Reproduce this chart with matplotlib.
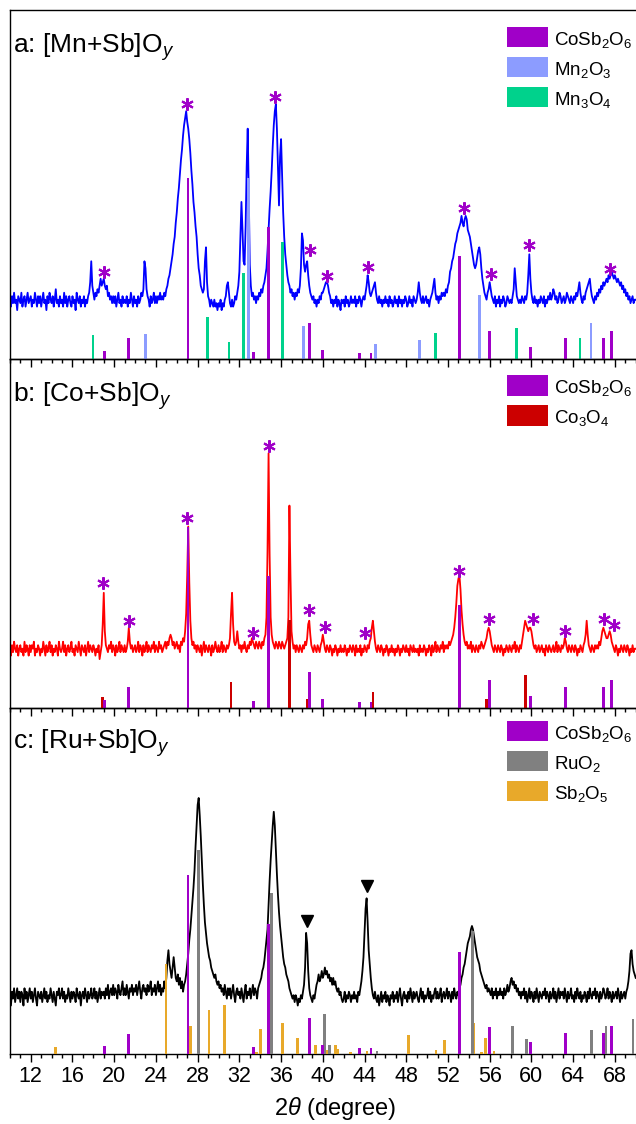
import numpy as np
import matplotlib
matplotlib.use('Agg')
import matplotlib.pyplot as plt
from matplotlib.patches import Rectangle
from matplotlib.ticker import MultipleLocator

plt.rcParams['font.family'] = ['Liberation Sans', 'DejaVu Sans']
plt.rcParams['mathtext.fontset'] = 'custom'
plt.rcParams['mathtext.rm'] = 'Liberation Sans'
plt.rcParams['mathtext.it'] = 'Liberation Sans:italic'
plt.rcParams['mathtext.bf'] = 'Liberation Sans:bold'

# ---------------- data (2theta from 10.0 in 0.1 deg steps) ----------------
pattern_a = [
    17,15,18,16,19,16,17,14,18,17,  16,19,15,17,18,15,17,19,16,17,
    18,15,17,16,19,17,15,18,16,18,  15,17,19,16,17,14,18,16,19,17,
    16,18,15,17,20,16,17,15,18,16,  17,15,19,16,18,15,17,18,16,15,
    18,16,17,14,19,17,16,18,15,17,  16,18,15,17,16,18,19,22,28,21,
    19,17,19,18,20,19,21,23,21,22,  23,21,20,21,18,19,17,18,16,18,
    16,18,15,17,19,16,17,15,18,16,  17,16,18,15,17,16,19,17,15,18,
    16,17,15,18,16,17,19,18,20,28,  26,20,18,17,15,18,16,17,19,16,
    18,16,18,17,19,17,18,17,19,18,  20,21,23,24,26,28,30,33,35,39,
    42,46,49,53,57,60,64,67,69,71,  68,66,63,59,54,50,45,42,38,35,
    30,26,24,21,20,19,20,28,32,22,  18,17,15,17,16,15,17,15,16,14,
    16,15,17,14,16,15,17,18,21,22,  19,16,15,17,15,16,18,17,19,21,
    25,35,45,37,28,27,38,55,66,48,  27,21,18,19,17,18,16,18,17,19,
    18,20,19,21,22,24,26,31,37,43,  48,54,61,67,71,73,66,55,44,58,
    63,52,42,35,30,27,24,22,21,19,  20,18,19,17,19,18,20,19,21,26,
    36,34,27,25,27,28,24,21,19,18,  17,18,16,17,15,17,16,18,17,19,
    19,20,21,22,22,21,19,18,16,17,  15,17,16,18,15,17,16,14,17,16,
    17,15,18,16,17,15,16,18,16,17,  16,18,15,17,16,18,17,15,17,18,
    17,19,21,24,22,19,18,19,20,21,  22,19,17,16,18,16,17,15,17,16,
    18,16,17,15,18,16,17,15,16,18,  16,17,15,18,16,17,15,17,16,18,
    17,15,16,18,16,17,15,18,17,16,  17,19,22,19,17,16,18,16,17,18,
    16,17,15,17,18,19,21,23,19,17,  18,16,18,17,19,18,19,18,20,19,
    21,22,25,26,28,29,31,33,34,36,  37,38,39,41,39,38,40,41,40,37,
    36,35,33,31,29,27,26,27,29,31,  32,30,26,23,21,19,18,17,19,20,
    22,20,18,17,16,18,15,17,16,18,  15,17,16,18,17,15,16,18,17,16,
    17,16,18,20,26,22,18,17,16,17,  16,18,17,16,18,17,19,24,30,23,
    19,17,16,18,16,17,15,17,16,18,  17,16,18,15,17,16,18,17,19,17,
    18,20,19,17,18,16,17,19,18,16,  17,18,16,17,19,18,17,16,18,17,
    16,18,17,19,18,20,22,19,17,16,  18,17,19,20,21,22,23,20,18,17,
    16,18,17,19,18,20,19,21,20,22,  21,22,23,22,24,23,24,25,24,23,
    24,23,22,23,22,21,22,20,21,19,  20,18,19,17,18,16,17,18,16,17,
    17]

pattern_b = [
    17,15,18,16,19,17,16,18,15,17,  18,16,17,15,19,16,18,17,15,18,
    16,18,17,19,15,17,16,18,17,15,  17,16,19,17,15,18,16,17,19,16,
    18,15,17,16,18,17,15,19,17,16,  17,19,16,18,15,17,18,16,17,19,
    16,17,15,18,17,16,19,17,15,18,  17,16,18,15,17,19,16,18,17,16,
    18,17,15,17,16,18,14,16,18,24,  33,22,18,17,16,18,17,19,16,18,
    17,15,18,16,17,19,16,18,17,16,  18,16,17,19,23,19,17,18,16,17,
    18,16,17,19,16,18,17,15,18,16,  17,19,16,18,17,16,18,17,19,16,
    18,17,16,19,17,18,16,17,18,19,  17,19,18,20,21,20,18,19,17,18,
    19,17,18,16,19,18,20,19,22,27,  38,52,36,25,20,18,19,17,18,16,
    18,17,16,18,15,17,19,16,18,17,  16,18,17,15,18,16,17,19,17,16,
    18,16,17,19,16,18,17,16,18,17,  18,20,27,33,24,19,18,19,22,19,
    17,18,16,18,17,19,17,16,18,17,  19,18,20,19,18,17,19,18,17,19,
    18,17,19,18,20,21,26,45,73,44,  26,21,19,18,17,19,18,17,19,18,
    17,19,18,17,18,19,20,26,58,38,  22,19,17,18,16,18,17,16,18,17,
    16,18,17,19,18,20,24,25,21,18,  17,16,18,17,16,18,17,16,18,19,
    21,19,17,16,18,17,16,18,17,15,  17,16,18,17,15,17,16,18,16,17,
    16,18,17,15,17,16,18,17,16,18,  17,15,18,16,17,16,18,15,17,16,
    18,17,16,18,17,19,20,23,25,22,  19,17,16,18,17,16,18,17,15,17,
    16,18,17,15,17,16,18,16,17,15,  17,16,18,17,15,17,16,18,17,16,
    18,16,17,15,18,17,16,18,16,17,  16,17,15,18,16,17,16,18,17,15,
    17,16,18,17,15,18,16,17,19,16,  18,17,16,18,17,19,16,18,17,18,
    17,19,18,19,20,21,23,26,30,35,  37,38,34,28,24,21,19,18,19,17,
    18,17,19,16,18,17,16,18,17,16,  18,17,19,18,17,18,19,20,22,23,
    22,20,18,17,16,18,17,16,18,17,  16,18,17,15,17,16,18,17,16,18,
    17,16,18,17,19,16,18,17,16,18,  17,19,21,23,25,24,23,22,23,23,
    22,20,18,17,18,16,17,18,16,17,  18,16,17,15,18,17,16,18,17,16,
    17,18,16,17,19,16,18,17,16,18,  17,18,20,19,17,16,18,17,16,18,
    17,16,18,17,15,17,16,18,17,16,  18,19,21,25,21,18,17,16,18,17,
    16,18,17,18,17,19,18,20,22,23,  22,21,20,20,21,22,21,19,18,17,
    16,18,17,15,17,16,18,17,16,18,  17,16,18,17,15,17,16,18,16,17,
    17]

pattern_c = [
    17,14,18,16,19,15,17,19,16,18,  15,18,17,14,19,16,18,15,17,19,
    16,18,15,17,19,16,14,18,17,16,  18,15,17,19,16,18,15,17,16,19,
    17,15,18,16,14,18,17,19,16,17,  19,16,18,15,17,16,19,17,15,18,
    16,18,17,15,19,17,16,18,14,17,  18,16,19,17,15,18,16,17,19,16,
    17,19,16,18,15,17,19,16,18,17,  18,16,19,17,20,16,18,19,17,20,
    17,19,18,16,20,18,17,19,21,17,  19,17,20,18,16,19,18,20,17,19,
    18,20,17,19,21,18,16,19,20,18,  19,17,20,18,19,21,17,19,18,20,
    17,19,21,18,20,17,19,18,21,19,  22,27,30,26,24,22,25,28,25,22,
    21,23,20,22,19,21,18,20,21,23,  26,29,33,36,40,44,48,53,60,66,
    72,74,69,63,56,49,43,38,35,32,  30,28,27,25,24,23,22,23,21,20,
    21,19,20,18,19,17,20,18,16,19,  17,19,16,18,20,17,15,18,19,17,
    18,16,19,17,15,18,20,16,18,17,  19,16,18,20,17,19,18,16,19,20,
    21,22,24,25,27,30,33,36,43,50,  56,61,66,70,66,59,52,46,41,37,
    34,31,28,26,25,23,22,21,19,18,  17,16,17,15,17,16,14,16,15,17,
    16,18,20,25,35,32,24,19,17,16,  15,17,16,18,20,21,23,21,22,24,
    22,23,25,23,24,22,23,21,22,20,  22,20,21,19,18,19,17,18,16,15,
    16,18,15,17,16,18,17,15,17,16,  18,16,17,15,18,17,19,21,24,28,
    35,42,45,38,30,26,22,19,17,16,  18,16,15,17,14,16,18,15,17,16,
    18,15,17,16,14,17,16,18,15,17,  16,18,15,17,19,16,14,17,18,16,
    17,15,18,16,19,17,15,18,16,17,  18,16,15,17,19,16,18,15,17,16,
    17,19,16,18,15,17,16,18,19,16,  18,16,17,19,15,17,18,16,17,19,
    16,18,17,15,18,16,19,17,16,18,  17,19,20,22,23,25,26,28,30,32,
    33,34,36,37,36,34,32,30,28,27,  26,24,23,22,21,20,19,20,18,19,
    18,17,19,16,18,17,19,16,18,17,  19,17,18,16,19,17,18,20,18,19,
    21,22,20,21,19,20,18,19,17,18,  16,18,17,19,16,18,15,17,19,16,
    18,17,15,18,16,19,17,15,18,17,  16,18,17,19,16,18,17,15,18,16,
    17,19,16,18,15,17,19,16,18,17,  18,16,19,17,15,18,16,17,19,16,
    17,15,18,16,19,17,16,18,15,17,  16,18,17,15,18,16,19,17,16,18,
    17,19,16,18,17,15,18,16,17,19,  18,16,17,19,16,18,17,15,18,16,
    17,18,16,19,17,15,18,16,17,18,  16,18,19,21,24,29,30,26,24,23,
    22]

# reference stick patterns (2theta, relative height)
cosb2o6_pos = [19.05, 21.39, 27.07, 33.37, 34.80, 38.71, 39.99, 43.49, 44.62,
               53.07, 55.99, 59.90, 63.29, 66.90, 67.70]
cosb2o6_h = [2.3, 5.9, 51.8, 2.1, 37.7, 10.4, 2.6, 1.8, 1.8,
             29.5, 7.9, 3.4, 6.1, 6.1, 8.0]
mn2o3_pos = [23.02, 32.86, 38.12, 45.09, 49.29, 55.05, 65.72]
mn2o3_h = [7.1, 51.8, 9.5, 4.3, 5.4, 18.3, 10.4]
mn3o4_pos = [17.96, 28.93, 31.00, 32.38, 36.15, 50.77, 58.59, 64.66]
mn3o4_h = [6.9, 12.1, 5.0, 24.5, 33.4, 7.4, 8.8, 6.1]
co3o4_pos = [18.88, 31.20, 36.84, 38.50, 44.82, 55.70, 59.45]
co3o4_h = [3.1, 7.5, 25.2, 2.5, 4.5, 2.5, 9.5]
ruo2_pos = [28.10, 35.08, 40.15, 40.63, 45.20, 54.35, 58.17, 59.55, 65.78, 67.16, 69.74]
ruo2_h = [59.0, 46.4, 11.5, 2.5, 0.8, 35.6, 8.0, 4.3, 6.9, 8.0, 10.0]
sb2o5_pos = [14.39, 24.97, 27.33, 29.09, 30.56, 33.65, 34.04, 36.12, 37.59, 39.32,
             40.46, 41.24, 41.42, 42.68, 44.23, 48.24, 50.85, 51.67, 54.47, 55.25,
             55.60, 56.41]
sb2o5_h = [2.1, 26.0, 8.1, 12.7, 14.2, 0.5, 7.2, 9.0, 4.7, 2.6,
           1.2, 2.6, 1.4, 0.5, 0.8, 5.5, 1.3, 4.0, 8.9, 0.7,
           4.6, 0.8]

# peak markers
stars_a_x = [19.01, 26.95, 35.46, 38.74, 40.38, 44.31, 53.50, 56.10, 59.80, 67.58]
stars_a_y = [25.0, 73.2, 75.1, 31.2, 23.8, 26.4, 43.2, 24.3, 32.7, 25.9]
stars_b_x = [18.97, 21.39, 26.99, 33.34, 34.81, 38.71, 40.19, 44.04, 53.07, 55.91,
             60.11, 63.19, 66.92, 67.93]
stars_b_y = [35.9, 25.0, 54.3, 21.6, 75.1, 28.1, 23.1, 21.6, 39.3, 25.4,
             25.4, 22.1, 25.4, 23.7]
tri_c_x = [38.45, 44.20]
tri_c_y = [38.5, 48.6]

panel_titles = ['a: [Mn+Sb]O$_y$', 'b: [Co+Sb]O$_y$', 'c: [Ru+Sb]O$_y$']
x_ticks = list(range(12, 70, 4))

# ---------------- style ----------------
PURPLE = '#A000C8'
LBLUE = '#8C9CFF'
GREEN = '#00D28C'
DRED = '#CC0000'
GRAY = '#808080'
ORANGE = '#E8A92A'

W, H = 636, 1124
AX_L, AX_W = 9.9, 625.8
fig = plt.figure(figsize=(W / 100, H / 100), dpi=100)

def make_axes(top, bottom):
    ax = fig.add_axes([AX_L / W, 1 - bottom / H, AX_W / W, (bottom - top) / H])
    ax.set_facecolor('none')
    return ax

bounds = [(10, 359), (359, 708), (708, 1054)]
axes = [make_axes(t, b) for t, b in bounds]

def grid_for(y):
    return np.linspace(10.0, 10.0 + 0.1 * (len(y) - 1), len(y))

def sticks(ax, pos, h, color):
    ax.bar(pos, h, width=0.27, color=color, linewidth=0, zorder=3)

def legend(ax, hpx, top_off, entries):
    for i, (lab, col) in enumerate(entries):
        t = top_off + 30 * i
        ax.add_patch(Rectangle(((506.7 - AX_L) / AX_W, 1 - (t + 20.7) / hpx),
                               41.6 / AX_W, 20.7 / hpx, transform=ax.transAxes,
                               facecolor=col, edgecolor='none', clip_on=False, zorder=5))
        ax.text((554 - AX_L) / AX_W, 1 - (t + 10.35 + 7.5) / hpx, lab,
                transform=ax.transAxes, fontsize=13.5, va='baseline', ha='left')

patterns = [pattern_a, pattern_b, pattern_c]
colors = ['#0000FF', '#FF0000', '#000000']

for i, ax in enumerate(axes):
    y = patterns[i]
    ax.plot(grid_for(y), y, color=colors[i], lw=1.3, zorder=2)
    hpx = bounds[i][1] - bounds[i][0]
    ax.text(3.4 / AX_W, 1 - (42.7 if i < 2 else 40.3) / hpx, panel_titles[i],
            transform=ax.transAxes, fontsize=19, va='baseline', ha='left')
    ax.set_xlim(10, 70)
    ax.set_ylim(0, 100)
    ax.set_yticks([])
    ax.set_xticks(x_ticks)
    ax.xaxis.set_minor_locator(MultipleLocator(1))
    ax.tick_params(axis='x', which='major', direction='out', length=5.5, width=1.0,
                   labelsize=15.5, pad=3, top=False)
    ax.tick_params(axis='x', which='minor', direction='out', length=3.1, width=1.0, top=False)
    for s in ['left', 'bottom', 'top']:
        ax.spines[s].set_linewidth(1.0)
    ax.spines['right'].set_visible(False)
    if i < 2:
        ax.tick_params(axis='x', labelbottom=False)

axa, axb, axc = axes
# panel a
sticks(axa, mn3o4_pos, mn3o4_h, GREEN)
sticks(axa, mn2o3_pos, mn2o3_h, LBLUE)
sticks(axa, cosb2o6_pos, cosb2o6_h, PURPLE)
axa.plot(stars_a_x, stars_a_y, ls='none', marker=(6, 2, 0), ms=9, mew=1.5,
         color=PURPLE, zorder=4)
legend(axa, 349, 16.7, [('CoSb$_2$O$_6$', PURPLE), ('Mn$_2$O$_3$', LBLUE),
                        ('Mn$_3$O$_4$', GREEN)])
# panel b
sticks(axb, co3o4_pos, co3o4_h, DRED)
sticks(axb, cosb2o6_pos, cosb2o6_h, PURPLE)
axb.plot(stars_b_x, stars_b_y, ls='none', marker=(6, 2, 0), ms=9, mew=1.5,
         color=PURPLE, zorder=4)
legend(axb, 349, 16.0, [('CoSb$_2$O$_6$', PURPLE), ('Co$_3$O$_4$', DRED)])
# panel c
sticks(axc, sb2o5_pos, sb2o5_h, ORANGE)
sticks(axc, ruo2_pos, ruo2_h, GRAY)
sticks(axc, cosb2o6_pos, cosb2o6_h, PURPLE)
axc.plot(tri_c_x, tri_c_y, ls='none', marker='v', ms=9, color='black', zorder=4)
legend(axc, 346, 12.7, [('CoSb$_2$O$_6$', PURPLE), ('RuO$_2$', GRAY),
                        ('Sb$_2$O$_5$', ORANGE)])
axc.set_xlabel(r'$\mathit{2}\theta$ (degree)', fontsize=17)
axc.xaxis.set_label_coords(0.52, -0.118)

fig.savefig('out.png', dpi=100)
